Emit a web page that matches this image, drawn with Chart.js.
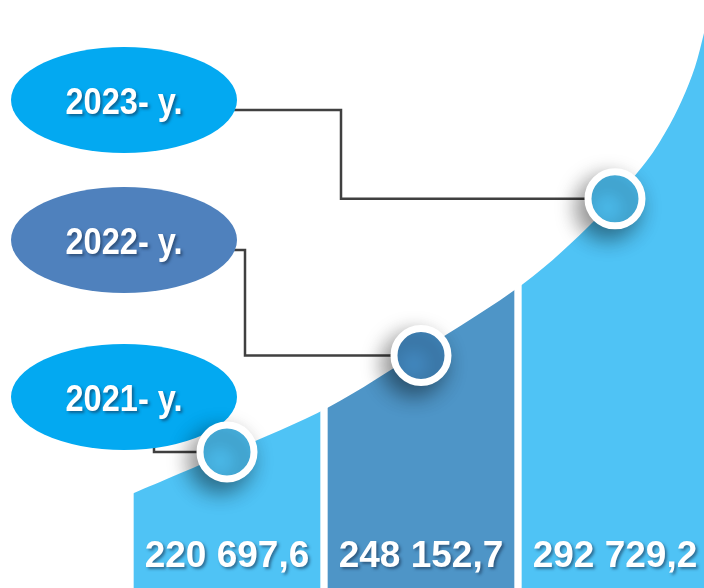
<!DOCTYPE html>
<html lang="en">
<head>
<meta charset="UTF-8">
<title>Growth 2021-2023</title>
<script src="https://cdn.jsdelivr.net/npm/chart.js@4.4.0/dist/chart.umd.min.js"></script>
<style>
  html, body { margin: 0; padding: 0; background: #fff; }
  #wrap { width: 704px; height: 588px; }
</style>
</head>
<body>
<div id="wrap"><canvas id="growth" width="704" height="588"></canvas></div>
<script>
// data
const years = ['2021- y.', '2022- y.', '2023- y.'];
const values = [220697.6, 248152.7, 292729.2];
const valueLabels = ['220 697,6', '248 152,7', '292 729,2'];

const barColors = ['#4FC3F5', '#4E95C7', '#4FC3F5'];
const dotColors = ['#4BBBEC', '#4389C0', '#4BBBEC'];
const bubbleColors = ['#03A9F1', '#4F81BD', '#03A9F1'];

// decorative top edge of the columns (white swoosh)
const edge = [[90,512],[134,493],[232,451],[329,407],[422,350],[523,284],[593,222],
              [642,167],[665,133],[682,100],[695,67],[704,33],[712,0]];
// bubble centres (2021, 2022, 2023) and elbow x of the connector
const bubbleY = [397, 240, 100];
const elbowX = [154, 245, 341];

function edgePath(ctx) {
  const n = edge.length;
  ctx.beginPath();
  ctx.moveTo(edge[0][0], edge[0][1]);
  for (let i = 0; i < n - 1; i++) {
    const p0 = edge[Math.max(i - 1, 0)], p1 = edge[i], p2 = edge[i + 1], p3 = edge[Math.min(i + 2, n - 1)];
    ctx.bezierCurveTo(p1[0] + (p2[0] - p0[0]) / 6, p1[1] + (p2[1] - p0[1]) / 6,
                      p2[0] - (p3[0] - p1[0]) / 6, p2[1] - (p3[1] - p1[1]) / 6,
                      p2[0], p2[1]);
  }
  ctx.lineTo(800, 0);
  ctx.lineTo(800, 700);
  ctx.lineTo(edge[0][0], 700);
  ctx.closePath();
}

function shadowText(ctx, txt, x, y) {
  ctx.save();
  ctx.shadowColor = 'rgba(20,40,70,0.55)';
  ctx.shadowBlur = 3;
  ctx.shadowOffsetX = 2;
  ctx.shadowOffsetY = 2;
  ctx.fillStyle = '#fff';
  ctx.fillText(txt, x, y);
  ctx.restore();
}

const decor = {
  id: 'decor',
  beforeDatasetsDraw(chart) {
    const ctx = chart.ctx;
    const dots = chart.getDatasetMeta(1).data;
    // connectors
    ctx.save();
    ctx.strokeStyle = '#404040';
    ctx.lineWidth = 2.5;
    dots.forEach((pt, i) => {
      ctx.beginPath();
      ctx.moveTo(124, bubbleY[i] + 10);
      ctx.lineTo(elbowX[i], bubbleY[i] + 10);
      ctx.lineTo(elbowX[i], pt.y);
      ctx.lineTo(pt.x, pt.y);
      ctx.stroke();
    });
    ctx.restore();
    // bubbles with year text
    years.forEach((yr, i) => {
      ctx.save();
      ctx.fillStyle = bubbleColors[i];
      ctx.beginPath();
      ctx.ellipse(124, bubbleY[i], 113, 53, 0, 0, Math.PI * 2);
      ctx.fill();
      ctx.translate(124, bubbleY[i] + 14);
      ctx.scale(0.88, 1);
      ctx.font = 'bold 37px "Liberation Sans", Arial, sans-serif';
      ctx.textAlign = 'center';
      ctx.textBaseline = 'alphabetic';
      shadowText(ctx, yr, 0, 0);
      ctx.restore();
    });
  },
  beforeDatasetDraw(chart, args) {
    const ctx = chart.ctx;
    ctx.save();
    if (args.index === 0) {
      edgePath(ctx);
      ctx.clip();
    } else {
      ctx.shadowColor = 'rgba(0,0,0,0.45)';
      ctx.shadowBlur = 22;
      ctx.shadowOffsetX = -7;
      ctx.shadowOffsetY = 9;
    }
  },
  afterDatasetDraw(chart) {
    chart.ctx.restore();
  },
  afterDatasetsDraw(chart) {
    const ctx = chart.ctx;
    const bars = chart.getDatasetMeta(0).data;
    ctx.save();
    ctx.font = 'bold 37px "Liberation Sans", Arial, sans-serif';
    ctx.textAlign = 'center';
    ctx.textBaseline = 'alphabetic';
    bars.forEach((b, i) => shadowText(ctx, valueLabels[i], b.x, chart.chartArea.bottom - 21));
    ctx.restore();
  }
};

new Chart(document.getElementById('growth'), {
  type: 'bar',
  data: {
    datasets: [
      {
        type: 'bar',
        data: values.map((v, i) => ({ x: i, y: v })),
        backgroundColor: barColors,
        borderWidth: 0,
        barThickness: 186,
        yAxisID: 'yBar',
        order: 2
      },
      {
        type: 'line',
        data: values.map((v, i) => ({ x: i, y: v })),
        showLine: false,
        pointRadius: 27,
        pointBorderWidth: 7,
        pointBorderColor: '#ffffff',
        pointBackgroundColor: dotColors,
        yAxisID: 'y',
        order: 1,
        clip: false
      }
    ]
  },
  options: {
    responsive: false,
    animation: false,
    layout: { autoPadding: false, padding: { left: 130, right: 0, top: 0, bottom: 0 } },
    plugins: { legend: { display: false }, tooltip: { enabled: false } },
    scales: {
      x: { type: 'linear', min: -0.5, max: 2.4588, offset: false, display: false },
      y: { min: 182000, max: 349300, display: false },
      yBar: { min: 185500, max: 295500, display: false }
    }
  },
  plugins: [decor]
});
</script>
</body>
</html>
